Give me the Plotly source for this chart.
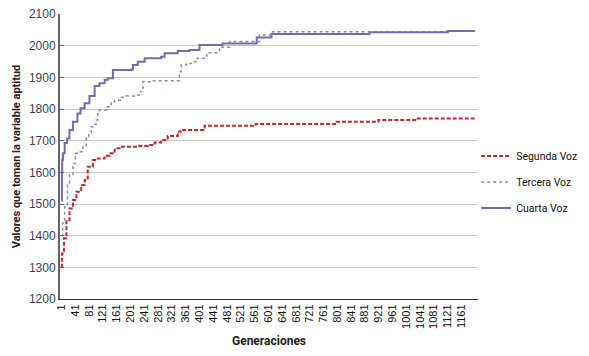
import plotly.graph_objects as go

# Generation breakpoints (step changes) and fitness values
gen_segunda = [1, 2, 8, 15, 24, 34, 44, 58, 68, 77, 92, 106, 126, 140, 155, 169, 222, 251, 271, 290, 309, 338, 346, 416, 564, 799, 920, 1031, 1200]
val_segunda = [1300, 1344, 1392, 1449, 1486, 1513, 1539, 1560, 1576, 1618, 1639, 1644, 1652, 1660, 1676, 1681, 1683, 1686, 1694, 1702, 1715, 1728, 1734, 1747, 1753, 1760, 1765, 1770, 1770]

gen_tercera = [1, 4, 10, 18, 24, 34, 41, 53, 63, 73, 80, 87, 95, 102, 106, 111, 131, 145, 155, 174, 189, 213, 230, 237, 261, 334, 343, 348, 363, 382, 395, 422, 459, 488, 575, 613, 1121, 1200]
val_tercera = [1400, 1440, 1491, 1565, 1592, 1628, 1660, 1665, 1681, 1713, 1725, 1744, 1752, 1765, 1786, 1797, 1807, 1823, 1828, 1837, 1841, 1844, 1855, 1886, 1889, 1889, 1918, 1939, 1944, 1949, 1960, 1978, 1995, 2013, 2034, 2044, 2046, 2046]

gen_cuarta = [1, 2, 3, 5, 10, 17, 24, 34, 47, 56, 68, 82, 97, 111, 126, 135, 150, 203, 208, 222, 242, 290, 300, 338, 372, 401, 468, 567, 610, 894, 1121, 1200]
val_cuarta = [1510, 1600, 1640, 1660, 1693, 1707, 1734, 1760, 1786, 1802, 1818, 1841, 1873, 1881, 1892, 1897, 1923, 1925, 1939, 1949, 1960, 1965, 1976, 1983, 1986, 2002, 2007, 2026, 2037, 2042, 2046, 2046]

x_ticks = list(range(1, 1162, 40))
y_ticks = list(range(1200, 2101, 100))

fig = go.Figure()
fig.add_trace(go.Scatter(x=gen_segunda, y=val_segunda, mode="lines", name="Segunda Voz",
                         line=dict(color="#c4252e", width=2, dash="4px,2px", shape="hv"),
                         legendgroup="a"))
fig.add_trace(go.Scatter(x=gen_tercera, y=val_tercera, mode="lines", name="Tercera Voz",
                         line=dict(color="#7f8fae", width=1.5, dash="dot", shape="hv"),
                         legendgroup="b"))
fig.add_trace(go.Scatter(x=gen_cuarta, y=val_cuarta, mode="lines", name="Cuarta Voz",
                         line=dict(color="#7a6aaa", width=2, shape="hv"),
                         legendgroup="c"))

# the page body has an 8px default margin on every side; size the figure so it fits the window
fig.update_layout(
    width=573, height=340,
    margin=dict(l=52, r=103, t=6, b=49, autoexpand=False),
    paper_bgcolor="white", plot_bgcolor="white",
    font=dict(family="Liberation Sans, Arial, sans-serif", color="#222"),
    legend=dict(xref="container", yref="container", x=0.817, y=0.488,
                xanchor="left", yanchor="middle",
                font=dict(family="Roboto, sans-serif", size=10.5, color="#111"),
                tracegroupgap=7, traceorder="grouped", bgcolor="rgba(0,0,0,0)"),
    xaxis=dict(range=[-3.5, 1209], tickmode="array", tickvals=x_ticks,
               ticktext=[str(v) for v in x_ticks], tickangle=-90, automargin=False,
               tickfont=dict(size=11, color="#111"),
               showgrid=False, zeroline=False, showline=True, linecolor="#333", linewidth=1,
               title=dict(text="<b>Generaciones</b>", font=dict(family="Roboto, sans-serif", size=12, color="#222"),
                          standoff=13)),
    yaxis=dict(range=[1200, 2100], tickmode="array", tickvals=y_ticks, automargin=False,
               ticklabeloverflow="allow",
               tickfont=dict(size=12, color="#3a3f55"),
               showgrid=True, gridcolor="#c8c8c8", gridwidth=1, zeroline=False,
               showline=True, linecolor="#666", linewidth=2,
               ticks="inside", ticklen=4, tickcolor="#666",
               title=dict(text="<b>Valores que toman la variable aptitud</b>",
                          font=dict(family="Roboto, sans-serif", size=11, color="#222"), standoff=6)),
)

fig.write_html("out.html")
